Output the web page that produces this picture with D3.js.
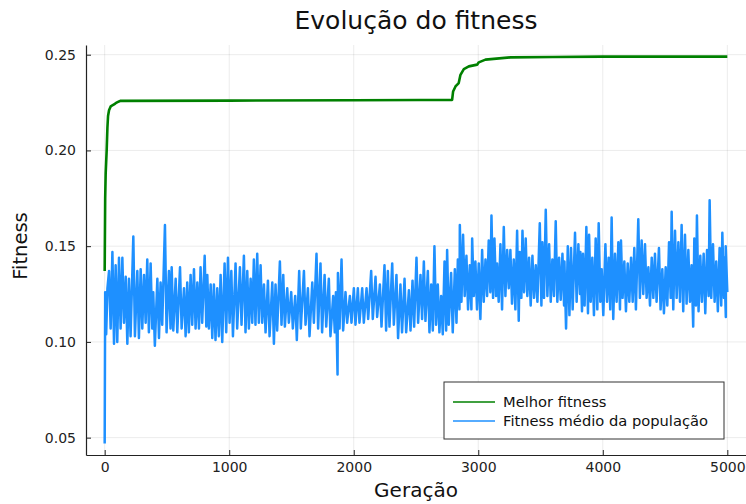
<!DOCTYPE html>
<html>
<head>
<meta charset="utf-8">
<script src="https://cdn.jsdelivr.net/npm/d3@7.9.0/dist/d3.min.js"></script>
<style>
  body { margin: 0; background: #fff; }
  svg { display: block; font-family: "DejaVu Sans", sans-serif; }
</style>
</head>
<body>
<script>
// melhor fitness (linha verde)
const melhorGeracao = [0, 4, 8, 16, 22, 27, 35, 48, 75, 88, 115, 128, 1000, 2000, 2536, 2790, 2798, 2817, 2843, 2857, 2884, 2924, 2991, 3004, 3058, 3258, 3600, 4000, 5000];
const melhorFitness = [0.137, 0.175, 0.188, 0.200, 0.212, 0.218, 0.221, 0.223, 0.224, 0.2247, 0.2256, 0.2259, 0.2260, 0.2262, 0.2263, 0.2264, 0.2308, 0.2334, 0.2352, 0.2395, 0.2425, 0.2439, 0.2448, 0.246, 0.2474, 0.2486, 0.2488, 0.249, 0.249];

// fitness médio: início da série
const inicioGeracao = [0, 4, 12, 22];
const inicioMedio = [0.047, 0.126, 0.104, 0.128];

// fitness médio: picos superiores / inferiores lidos ao longo das gerações
const amostraGeracao = [35, 62, 88, 115, 142, 169, 195, 230, 262, 289, 316, 342, 369, 390, 423, 449, 484, 516, 538, 570, 605, 637, 663, 690, 717, 744, 770, 803, 824, 851, 877, 904, 931, 963, 990, 1017, 1051, 1086, 1118, 1145, 1172, 1198, 1225,
  1252, 1279, 1311, 1346, 1372, 1407, 1434, 1466, 1498, 1530, 1562, 1600, 1632, 1667, 1701, 1733, 1766, 1800, 1835, 1857, 1873, 1902, 1934, 1969, 2001, 2033, 2068, 2103, 2140, 2175, 2210, 2247, 2274, 2309, 2343, 2375, 2408, 2443, 2472, 2504,
  2536, 2563, 2595, 2622, 2648, 2675, 2702, 2729, 2750, 2782, 2812, 2836, 2852, 2878, 2905, 2932, 2951, 2977, 3004, 3031, 3058, 3084, 3106, 3130, 3151, 3178, 3205, 3232, 3258, 3285, 3312, 3333, 3355, 3381, 3408, 3435, 3462, 3494, 3515, 3542, 3569, 3595, 3622, 3649, 3676, 3692, 3719, 3745, 3777, 3804,
  3820, 3841, 3868, 3890, 3916, 3943, 3967, 3991, 4021, 4047, 4071, 4098, 4125, 4146, 4173, 4200, 4227, 4253, 4285, 4312, 4339, 4366, 4393, 4419, 4451, 4478, 4505, 4532, 4553, 4580, 4607, 4633, 4660, 4687, 4713, 4735, 4756, 4783, 4810, 4837, 4858, 4885, 4911, 4938, 4960, 4975, 4987];
const topoMedio = [0.137, 0.147, 0.140, 0.144, 0.144, 0.134, 0.133, 0.155, 0.137, 0.138, 0.135, 0.143, 0.141, 0.126, 0.133, 0.131, 0.161, 0.137, 0.139, 0.133, 0.139, 0.128, 0.131, 0.135, 0.138, 0.131, 0.139, 0.145, 0.135, 0.130, 0.130, 0.128, 0.135, 0.141, 0.144, 0.137, 0.141, 0.139, 0.145, 0.137, 0.133, 0.143, 0.146,
  0.140, 0.130, 0.132, 0.131, 0.130, 0.142, 0.135, 0.128, 0.126, 0.124, 0.137, 0.137, 0.128, 0.131, 0.146, 0.141, 0.135, 0.133, 0.124, 0.126, 0.136, 0.143, 0.126, 0.124, 0.128, 0.128, 0.128, 0.128, 0.137, 0.134, 0.130, 0.140, 0.137, 0.141, 0.135, 0.130, 0.133, 0.127, 0.132, 0.144,
  0.135, 0.142, 0.137, 0.130, 0.150, 0.130, 0.124, 0.142, 0.148, 0.136, 0.138, 0.143, 0.161, 0.156, 0.145, 0.140, 0.154, 0.142, 0.141, 0.148, 0.143, 0.153, 0.166, 0.154, 0.141, 0.151, 0.160, 0.148, 0.148, 0.143, 0.158, 0.147, 0.158, 0.154, 0.144, 0.145, 0.140, 0.162, 0.152, 0.169, 0.151, 0.143, 0.163, 0.144, 0.146, 0.142, 0.150, 0.149, 0.157, 0.151,
  0.147, 0.146, 0.160, 0.156, 0.144, 0.154, 0.162, 0.138, 0.151, 0.144, 0.165, 0.146, 0.152, 0.153, 0.142, 0.141, 0.144, 0.149, 0.164, 0.153, 0.151, 0.139, 0.144, 0.146, 0.149, 0.138, 0.139, 0.152, 0.168, 0.158, 0.152, 0.161, 0.156, 0.148, 0.140, 0.154, 0.166, 0.145, 0.146, 0.148, 0.174, 0.151, 0.142, 0.149, 0.157, 0.144, 0.150];
const baseMedio = [0.107, 0.099, 0.100, 0.107, 0.110, 0.099, 0.103, 0.103, 0.102, 0.107, 0.110, 0.105, 0.107, 0.098, 0.102, 0.109, 0.105, 0.107, 0.106, 0.105, 0.107, 0.103, 0.105, 0.109, 0.107, 0.107, 0.110, 0.108, 0.107, 0.102, 0.101, 0.103, 0.100, 0.105, 0.110, 0.103, 0.107, 0.109, 0.105, 0.107, 0.110, 0.109, 0.110,
  0.110, 0.105, 0.103, 0.099, 0.106, 0.109, 0.108, 0.110, 0.107, 0.101, 0.107, 0.109, 0.103, 0.110, 0.107, 0.105, 0.108, 0.103, 0.105, 0.083, 0.107, 0.106, 0.110, 0.110, 0.109, 0.110, 0.110, 0.112, 0.112, 0.113, 0.108, 0.106, 0.108, 0.109, 0.102, 0.105, 0.105, 0.106, 0.108, 0.110,
  0.112, 0.111, 0.105, 0.106, 0.109, 0.105, 0.104, 0.106, 0.109, 0.105, 0.110, 0.117, 0.121, 0.124, 0.117, 0.117, 0.124, 0.117, 0.112, 0.121, 0.124, 0.126, 0.123, 0.124, 0.121, 0.117, 0.124, 0.128, 0.120, 0.117, 0.111, 0.123, 0.126, 0.124, 0.119, 0.123, 0.121, 0.119, 0.123, 0.124, 0.121, 0.124, 0.121, 0.122, 0.119, 0.107, 0.114, 0.117, 0.121, 0.125,
  0.116, 0.119, 0.115, 0.121, 0.114, 0.117, 0.121, 0.114, 0.121, 0.117, 0.112, 0.121, 0.117, 0.123, 0.116, 0.121, 0.121, 0.117, 0.123, 0.125, 0.123, 0.119, 0.123, 0.121, 0.117, 0.115, 0.119, 0.123, 0.117, 0.123, 0.121, 0.116, 0.120, 0.121, 0.108, 0.119, 0.116, 0.121, 0.115, 0.124, 0.123, 0.121, 0.116, 0.119, 0.123, 0.113, 0.126];

const xTicks = [0, 1000, 2000, 3000, 4000, 5000];
const yTicks = [0.05, 0.10, 0.15, 0.20, 0.25];
const legendLabels = ["Melhor fitness", "Fitness médio da população"];
const cores = ["#008000", "#1e90ff"];

// monta as séries
let melhor = melhorGeracao.map((g, i) => ({ g: g, v: melhorFitness[i] }));
let media = inicioGeracao.map((g, i) => ({ g: g, v: inicioMedio[i] }));
amostraGeracao.forEach((g, i) => {
  media.push({ g: g, v: topoMedio[i] });
  media.push({ g: Math.min(g + 13, 5000), v: baseMedio[i] });
});

const width = 746, height = 504;
const svg = d3.select("body").append("svg").attr("width", width).attr("height", height);

// limites com a margem de 3% do Plots.jl
let gExt = d3.extent(melhor.concat(media), d => d.g);
let vExt = d3.extent(melhor.concat(media), d => d.v);
let gPad = (gExt[1] - gExt[0]) * 0.03, vPad = (vExt[1] - vExt[0]) * 0.03;

let x = d3.scaleLinear().domain([gExt[0] - gPad, gExt[1] + gPad]).range([86, 746]);
let y = d3.scaleLinear().domain([vExt[0] - vPad, vExt[1] + vPad]).range([455, 45]);

// grade
svg.append("g").selectAll("line").data(xTicks).join("line")
  .attr("x1", d => x(d)).attr("x2", d => x(d)).attr("y1", 45).attr("y2", 455)
  .attr("stroke", "#000").attr("stroke-opacity", 0.08).attr("stroke-width", 1);
svg.append("g").selectAll("line").data(yTicks).join("line")
  .attr("x1", 86).attr("x2", 746).attr("y1", d => y(d)).attr("y2", d => y(d))
  .attr("stroke", "#000").attr("stroke-opacity", 0.08).attr("stroke-width", 1);

// eixos
let xAxis = svg.append("g").attr("transform", "translate(0,455)")
  .call(d3.axisBottom(x).tickValues(xTicks).tickFormat(d3.format("d")).tickSizeInner(-5).tickSizeOuter(0).tickPadding(7));
let yAxis = svg.append("g").attr("transform", "translate(86,0)")
  .call(d3.axisLeft(y).tickValues(yTicks).tickFormat(d3.format(".2f")).tickSizeInner(-5).tickSizeOuter(0).tickPadding(10));
[xAxis, yAxis].forEach(a => {
  a.attr("font-family", null).attr("font-size", 14);
  a.selectAll("text").attr("fill", "#222");
  a.select(".domain").attr("stroke", "#222").attr("stroke-width", 1.2);
  a.selectAll(".tick line").attr("stroke", "#222");
});

// linhas
let line = d3.line().x(d => x(d.g)).y(d => y(d.v));
svg.append("path").datum(melhor).attr("d", line)
  .attr("fill", "none").attr("stroke", cores[0]).attr("stroke-width", 2.6).attr("stroke-linejoin", "round");
svg.append("path").datum(media).attr("d", line)
  .attr("fill", "none").attr("stroke", cores[1]).attr("stroke-width", 2.5).attr("stroke-linejoin", "round");

// títulos
svg.append("text").attr("x", 416).attr("y", 29).attr("text-anchor", "middle")
  .attr("font-size", 25).attr("fill", "#111").text("Evolução do fitness");
svg.append("text").attr("x", 416).attr("y", 497).attr("text-anchor", "middle")
  .attr("font-size", 20).attr("fill", "#111").text("Geração");
svg.append("text").attr("transform", "translate(27,246) rotate(-90)").attr("text-anchor", "middle")
  .attr("font-size", 19.5).attr("fill", "#111").text("Fitness");

// legenda
let legend = svg.append("g").attr("transform", "translate(444,382)");
legend.append("rect").attr("width", 280).attr("height", 57)
  .attr("fill", "#fff").attr("stroke", "#333").attr("stroke-width", 1);
legendLabels.forEach((label, i) => {
  legend.append("line").attr("x1", 9).attr("x2", 51).attr("y1", 20 + i * 19).attr("y2", 20 + i * 19)
    .attr("stroke", cores[i]).attr("stroke-width", 1.5);
  legend.append("text").attr("x", 59).attr("y", 25 + i * 19)
    .attr("font-size", 14.7).attr("fill", "#111").text(label);
});
</script>
</body>
</html>
